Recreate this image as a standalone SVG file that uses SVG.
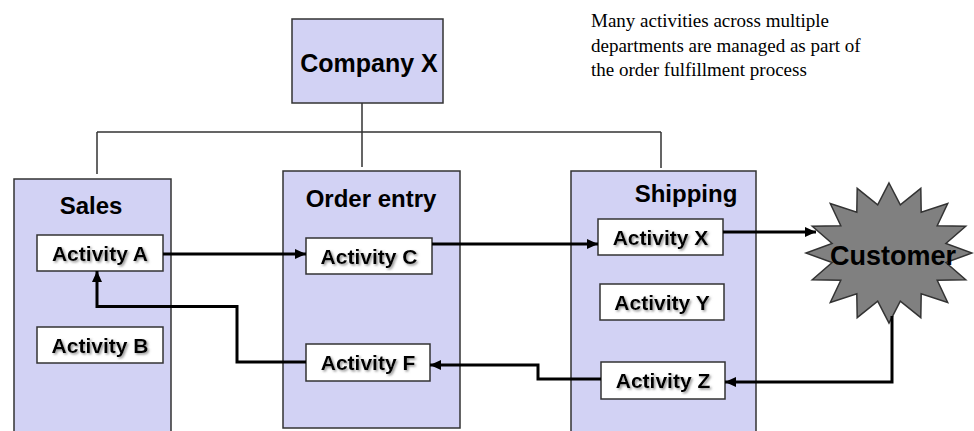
<svg xmlns="http://www.w3.org/2000/svg" width="974" height="431" viewBox="0 0 974 431">
<defs>
<style>
.dept{fill:#d2d2f4;stroke:#333;stroke-width:1.5}
.act{fill:#fff;stroke:#333;stroke-width:1.5}
.lbl{font-family:"Liberation Sans",Arial,sans-serif;font-weight:bold;fill:#000;text-anchor:middle}
.big{font-size:24px}
.at{font-size:21px;filter:url(#sh)}
.org{fill:none;stroke:#333;stroke-width:1.5}
.flow{fill:none;stroke:#000;stroke-width:3}
.note{font-family:"Liberation Serif","Times New Roman",serif;font-size:19px;fill:#000}
</style>
<marker id="ah" viewBox="0 0 11 10" refX="11" refY="5" markerWidth="11" markerHeight="10" markerUnits="userSpaceOnUse" orient="auto">
<path d="M0,0 L11,5 L0,10 z" fill="#000"/>
</marker>
<filter id="sh" x="-10%" y="-20%" width="120%" height="150%">
<feDropShadow dx="1.5" dy="1.5" stdDeviation="0.8" flood-color="#777" flood-opacity="0.8"/>
</filter>
</defs>
<rect width="974" height="431" fill="#fff"/>

<g id="note">
<text class="note" x="591" y="27">Many activities across multiple</text>
<text class="note" x="591" y="52">departments are managed as part of</text>
<text class="note" x="591" y="76">the order fulfillment process</text>
</g>

<g id="org-lines">
<path class="org" d="M362,103 V132 M97,132 H661 M97,132 V174 M362,132 V167 M661,132 V168"/>
</g>

<g id="company-x">
<rect class="dept" x="292" y="19" width="151" height="84"/>
<text class="lbl" x="369" y="72" font-size="25">Company X</text>
</g>

<g id="sales">
<rect class="dept" x="14" y="179" width="157" height="260"/>
<text class="lbl big" x="91" y="214">Sales</text>
</g>
<g id="order-entry">
<rect class="dept" x="283" y="171" width="177" height="257"/>
<text class="lbl big" x="371" y="207">Order entry</text>
</g>
<g id="shipping">
<rect class="dept" x="571" y="171" width="185" height="268"/>
<text class="lbl big" x="686" y="202">Shipping</text>
</g>

<g id="activity-a">
<rect class="act" x="37" y="235" width="126" height="36"/>
<text class="lbl at" x="100" y="260.5">Activity A</text>
</g>
<g id="activity-b">
<rect class="act" x="37" y="327" width="126" height="36"/>
<text class="lbl at" x="100" y="352.5">Activity B</text>
</g>
<g id="activity-c">
<rect class="act" x="306" y="238" width="126" height="36"/>
<text class="lbl at" x="369" y="263.5">Activity C</text>
</g>
<g id="activity-f">
<rect class="act" x="306" y="344" width="124" height="37"/>
<text class="lbl at" x="368" y="370">Activity F</text>
</g>
<g id="activity-x">
<rect class="act" x="598" y="219" width="125" height="36"/>
<text class="lbl at" x="660.5" y="244.5">Activity X</text>
</g>
<g id="activity-y">
<rect class="act" x="600" y="284" width="124" height="36"/>
<text class="lbl at" x="662" y="309.5">Activity Y</text>
</g>
<g id="activity-z">
<rect class="act" x="601" y="362" width="124" height="37"/>
<text class="lbl at" x="663" y="388">Activity Z</text>
</g>

<g id="customer">
<polygon fill="#808080" stroke="#333" stroke-width="1.5" points="889,183 900.3,204.9 920.8,188.3 921.2,212.3 947.7,203.5 937.2,225.8 965.7,226.2 945.9,243.4 972,253 945.9,262.6 965.7,279.8 937.2,280.2 947.7,302.5 921.2,293.7 920.8,317.7 900.3,301.1 889,323 877.7,301.1 857.2,317.7 856.8,293.7 830.3,302.5 840.8,280.2 812.3,279.8 832.1,262.6 806,253 832.1,243.4 812.3,226.2 840.8,225.8 830.3,203.5 856.8,212.3 857.2,188.3 877.7,204.9"/>
<text class="lbl" x="893" y="265" font-size="27">Customer</text>
</g>

<g id="connectors">
<path class="flow" marker-end="url(#ah)" d="M163,254 H306"/>
<path class="flow" marker-end="url(#ah)" d="M432,244 H598"/>
<path class="flow" marker-end="url(#ah)" d="M723,232 H816"/>
<path class="flow" marker-end="url(#ah)" d="M892,316 V382 H725"/>
<path class="flow" marker-end="url(#ah)" d="M601,379 H538 V365 H430"/>
<path class="flow" marker-end="url(#ah)" d="M306,362 H237 V306.5 H97 V271"/>
</g>
</svg>
